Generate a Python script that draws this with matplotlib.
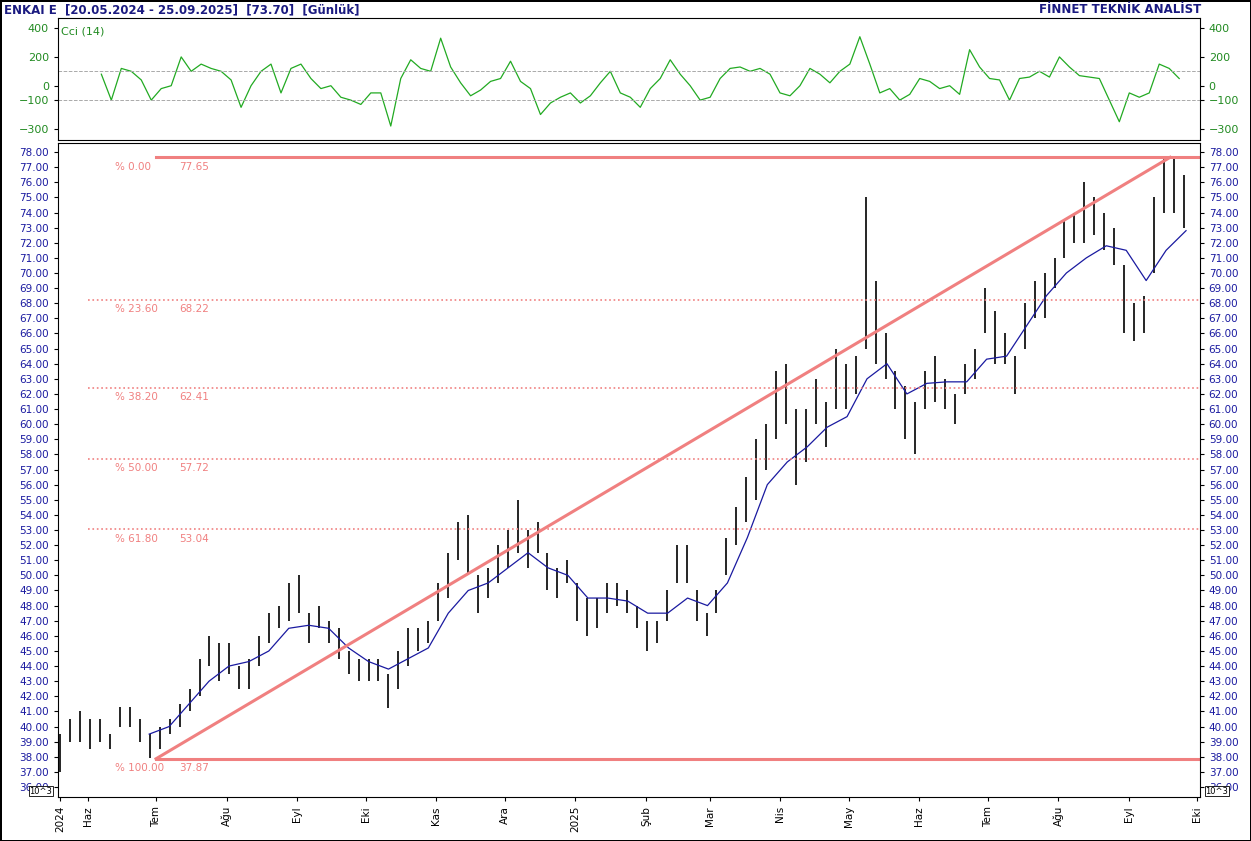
import matplotlib
matplotlib.use("Agg")
import matplotlib.pyplot as plt
import matplotlib.dates as mdates
import numpy as np
import pandas as pd

# ---- data ----
bar_high = [39.5, 40.5, 41, 40.5, 40.5, 39.5, 41.3, 41.3, 40.5, 39.5,
            40, 40.5, 41.5, 42.5, 44.5, 46, 45.5, 45.5, 44, 44.5,
            46, 47.5, 48, 49.5, 50, 47.5, 48, 47, 46.5, 45,
            44.5, 44.5, 44.5, 43.5, 45, 46.5, 46.5, 47, 49.5, 51.5,
            53.5, 54, 50, 50.5, 52, 53, 55, 53, 53.5, 51.5,
            50.5, 51, 49.5, 48.5, 48.5, 49.5, 49.5, 49, 48, 47,
            47, 49, 52, 52, 49, 47.5, 49, 52.5, 54.5, 56.5,
            59, 60, 63.5, 64, 61, 61, 63, 61.5, 65, 64,
            64.5, 75, 69.5, 66, 63.5, 62.5, 61.5, 63.5, 64.5, 63,
            62, 64, 65, 69, 67.5, 66, 64.5, 68, 69.5, 70,
            71, 73.5, 74, 76, 75, 74, 73, 70.5, 68, 68.5,
            75, 77.7, 77.7, 76.5]
bar_low = [37.0, 39, 39, 38.5, 39, 38.5, 40, 40, 39, 37.9,
           38.5, 39.5, 40, 41, 42, 44, 43, 43.5, 42.5, 42.5,
           44, 45.5, 46.5, 47, 47.5, 45.5, 46.5, 45.5, 44.5, 43.5,
           43, 43, 43, 41.2, 42.5, 44, 45, 45.5, 47, 48.5,
           51, 50, 47.5, 48.5, 49.5, 50.5, 51.5, 50.5, 51.5, 49,
           48.5, 49.5, 47, 46, 46.5, 47.5, 48, 47.5, 46.5, 45,
           45.5, 47, 49.5, 49.5, 47, 46, 47.5, 50, 52, 53.5,
           55, 57, 59, 60, 56, 57.5, 60, 58.5, 61, 61,
           62, 65, 64, 63, 61, 59, 58, 61, 61.5, 61,
           60, 62, 63, 66, 64, 64, 62, 65, 67, 67,
           69, 71, 72, 72, 72.5, 71.5, 70.5, 66, 65.5, 66,
           70, 74, 74, 73]
bar_dates = pd.date_range("2024-05-20", "2025-09-25", periods=len(bar_high))

ma_values = [39.5, 40, 41.5, 43, 44, 44.3, 45, 46.5, 46.7, 46.5,
             45.2, 44.3, 43.8, 44.5, 45.2, 47.5, 49, 49.5, 50.5, 51.5,
             50.5, 50, 48.5, 48.5, 48.3, 47.5, 47.5, 48.5, 48, 49.5,
             52.5, 56, 57.5, 58.5, 59.8, 60.5, 63, 64, 62, 62.7,
             62.8, 62.8, 64.3, 64.5, 66.5, 68.5, 70, 71, 71.8, 71.5,
             69.5, 71.5, 72.8]
ma_dates = pd.date_range("2024-06-28", "2025-09-26", periods=len(ma_values))

cci_values = [80, -100, 120, 100, 40, -100, -20, 0, 200, 100,
              150, 120, 100, 40, -150, 0, 100, 150, -50, 120,
              150, 50, -20, 0, -80, -100, -130, -50, -50, -280,
              50, 180, 120, 100, 330, 130, 20, -70, -30, 30,
              50, 170, 30, -20, -200, -120, -80, -50, -120, -70,
              20, 100, -50, -80, -150, -20, 50, 180, 80, 0,
              -100, -80, 50, 120, 130, 100, 120, 80, -50, -70,
              0, 120, 80, 20, 100, 150, 340, 150, -50, -20,
              -100, -60, 50, 30, -20, 0, -60, 250, 130, 50,
              40, -100, 50, 60, 100, 60, 200, 130, 70, 60,
              50, -100, -250, -50, -80, -50, 150, 120, 50]
cci_dates = pd.date_range("2024-06-07", "2025-09-23", periods=len(cci_values))

fib_pct = ["% 0.00", "% 23.60", "% 38.20", "% 50.00", "% 61.80", "% 100.00"]
fib_levels = [77.65, 68.22, 62.41, 57.72, 53.04, 37.87]
fib_start = pd.Timestamp("2024-07-01")
trend_end = pd.Timestamp("2025-09-19")

month_ticks = pd.date_range("2024-06-01", "2025-10-01", freq="MS")
month_names = ["Haz", "Tem", "Ağu", "Eyl", "Eki", "Kas", "Ara", "2025", "Şub",
               "Mar", "Nis", "May", "Haz", "Tem", "Ağu", "Eyl", "Eki"]

PINK = "#F08080"
xmin, xmax = pd.Timestamp("2024-05-19"), pd.Timestamp("2025-10-02")

fig = plt.figure(figsize=(12.51, 8.41), dpi=100)
fig.patch.set_edgecolor("black")
fig.patch.set_linewidth(1)

# ---- CCI panel ----
axc = fig.add_axes([0.0464, 0.8335, 0.9126, 0.1451])
axc.plot(cci_dates, cci_values, color="#22AA22", lw=0.9)
for lvl in (100, -100):
    axc.axhline(lvl, color="#AAAAAA", ls="--", lw=0.7)
axc.set_ylim(-377, 470)
axc.set_xlim(xmin, xmax)
axc.set_yticks([400, 200, 0, -100, -300])
axc.tick_params(labelsize=8, right=True, labelright=True, bottom=False, labelbottom=False,
                length=3, colors="black")
for lab in axc.get_yticklabels():
    lab.set_color("#228B22")
axc.text(0.003, 0.93, "Cci (14)", transform=axc.transAxes, fontsize=8,
         color="#228B22", va="top")

# ---- price panel ----
ax = fig.add_axes([0.0464, 0.0523, 0.9126, 0.7777])
ax.vlines(bar_dates, bar_low, bar_high, color="black", lw=1.2)
ax.plot(ma_dates, ma_values, color="#1a1aa0", lw=0.9)

for pct, lvl in zip(fib_pct, fib_levels):
    if lvl in (fib_levels[0], fib_levels[-1]):
        ax.plot([fib_start, xmax], [lvl, lvl], color=PINK, lw=2.2)
    else:
        ax.plot([pd.Timestamp("2024-06-01"), xmax], [lvl, lvl], color=PINK, lw=1.2, ls=":")
    ax.text(pd.Timestamp("2024-06-13"), lvl - 0.3, pct, color=PINK, fontsize=7.5, va="top")
    ax.text(pd.Timestamp("2024-07-11"), lvl - 0.3, f"{lvl:.2f}", color=PINK, fontsize=7.5, va="top")
ax.plot([fib_start, trend_end], [fib_levels[-1], fib_levels[0]], color=PINK, lw=2.2)

ax.set_ylim(35.34, 78.6)
ax.set_xlim(xmin, xmax)
ax.set_yticks(np.arange(36, 79, 1))
ax.yaxis.set_major_formatter(plt.FuncFormatter(lambda v, p: f"{v:.2f}"))
ax.tick_params(axis="y", labelsize=7.5, right=True, labelright=True, length=3)
for lab in ax.get_yticklabels():
    lab.set_color("#1a1aa0")
ax.set_xticks([pd.Timestamp("2024-05-20")] + list(month_ticks))
ax.set_xticklabels(["2024"] + month_names, rotation=90, fontsize=7.5)
ax.tick_params(axis="x", length=3)
ax.text(-0.005, 0.005, "10^3", transform=ax.transAxes, fontsize=6, ha="right",
        bbox=dict(fc="white", ec="black", lw=0.6, pad=0.5))
ax.text(1.005, 0.005, "10^3", transform=ax.transAxes, fontsize=6, ha="left",
        bbox=dict(fc="white", ec="black", lw=0.6, pad=0.5))

fig.text(0.003, 0.996, "ENKAI E  [20.05.2024 - 25.09.2025]  [73.70]  [Günlük]",
         fontsize=8.5, color="#1a1a80", fontweight="bold", va="top")
fig.text(0.96, 0.996, "FİNNET TEKNİK ANALİST", fontsize=8.5, color="#1a1a80",
         fontweight="bold", va="top", ha="right")

fig.savefig("out.png", dpi=100, edgecolor="black")
